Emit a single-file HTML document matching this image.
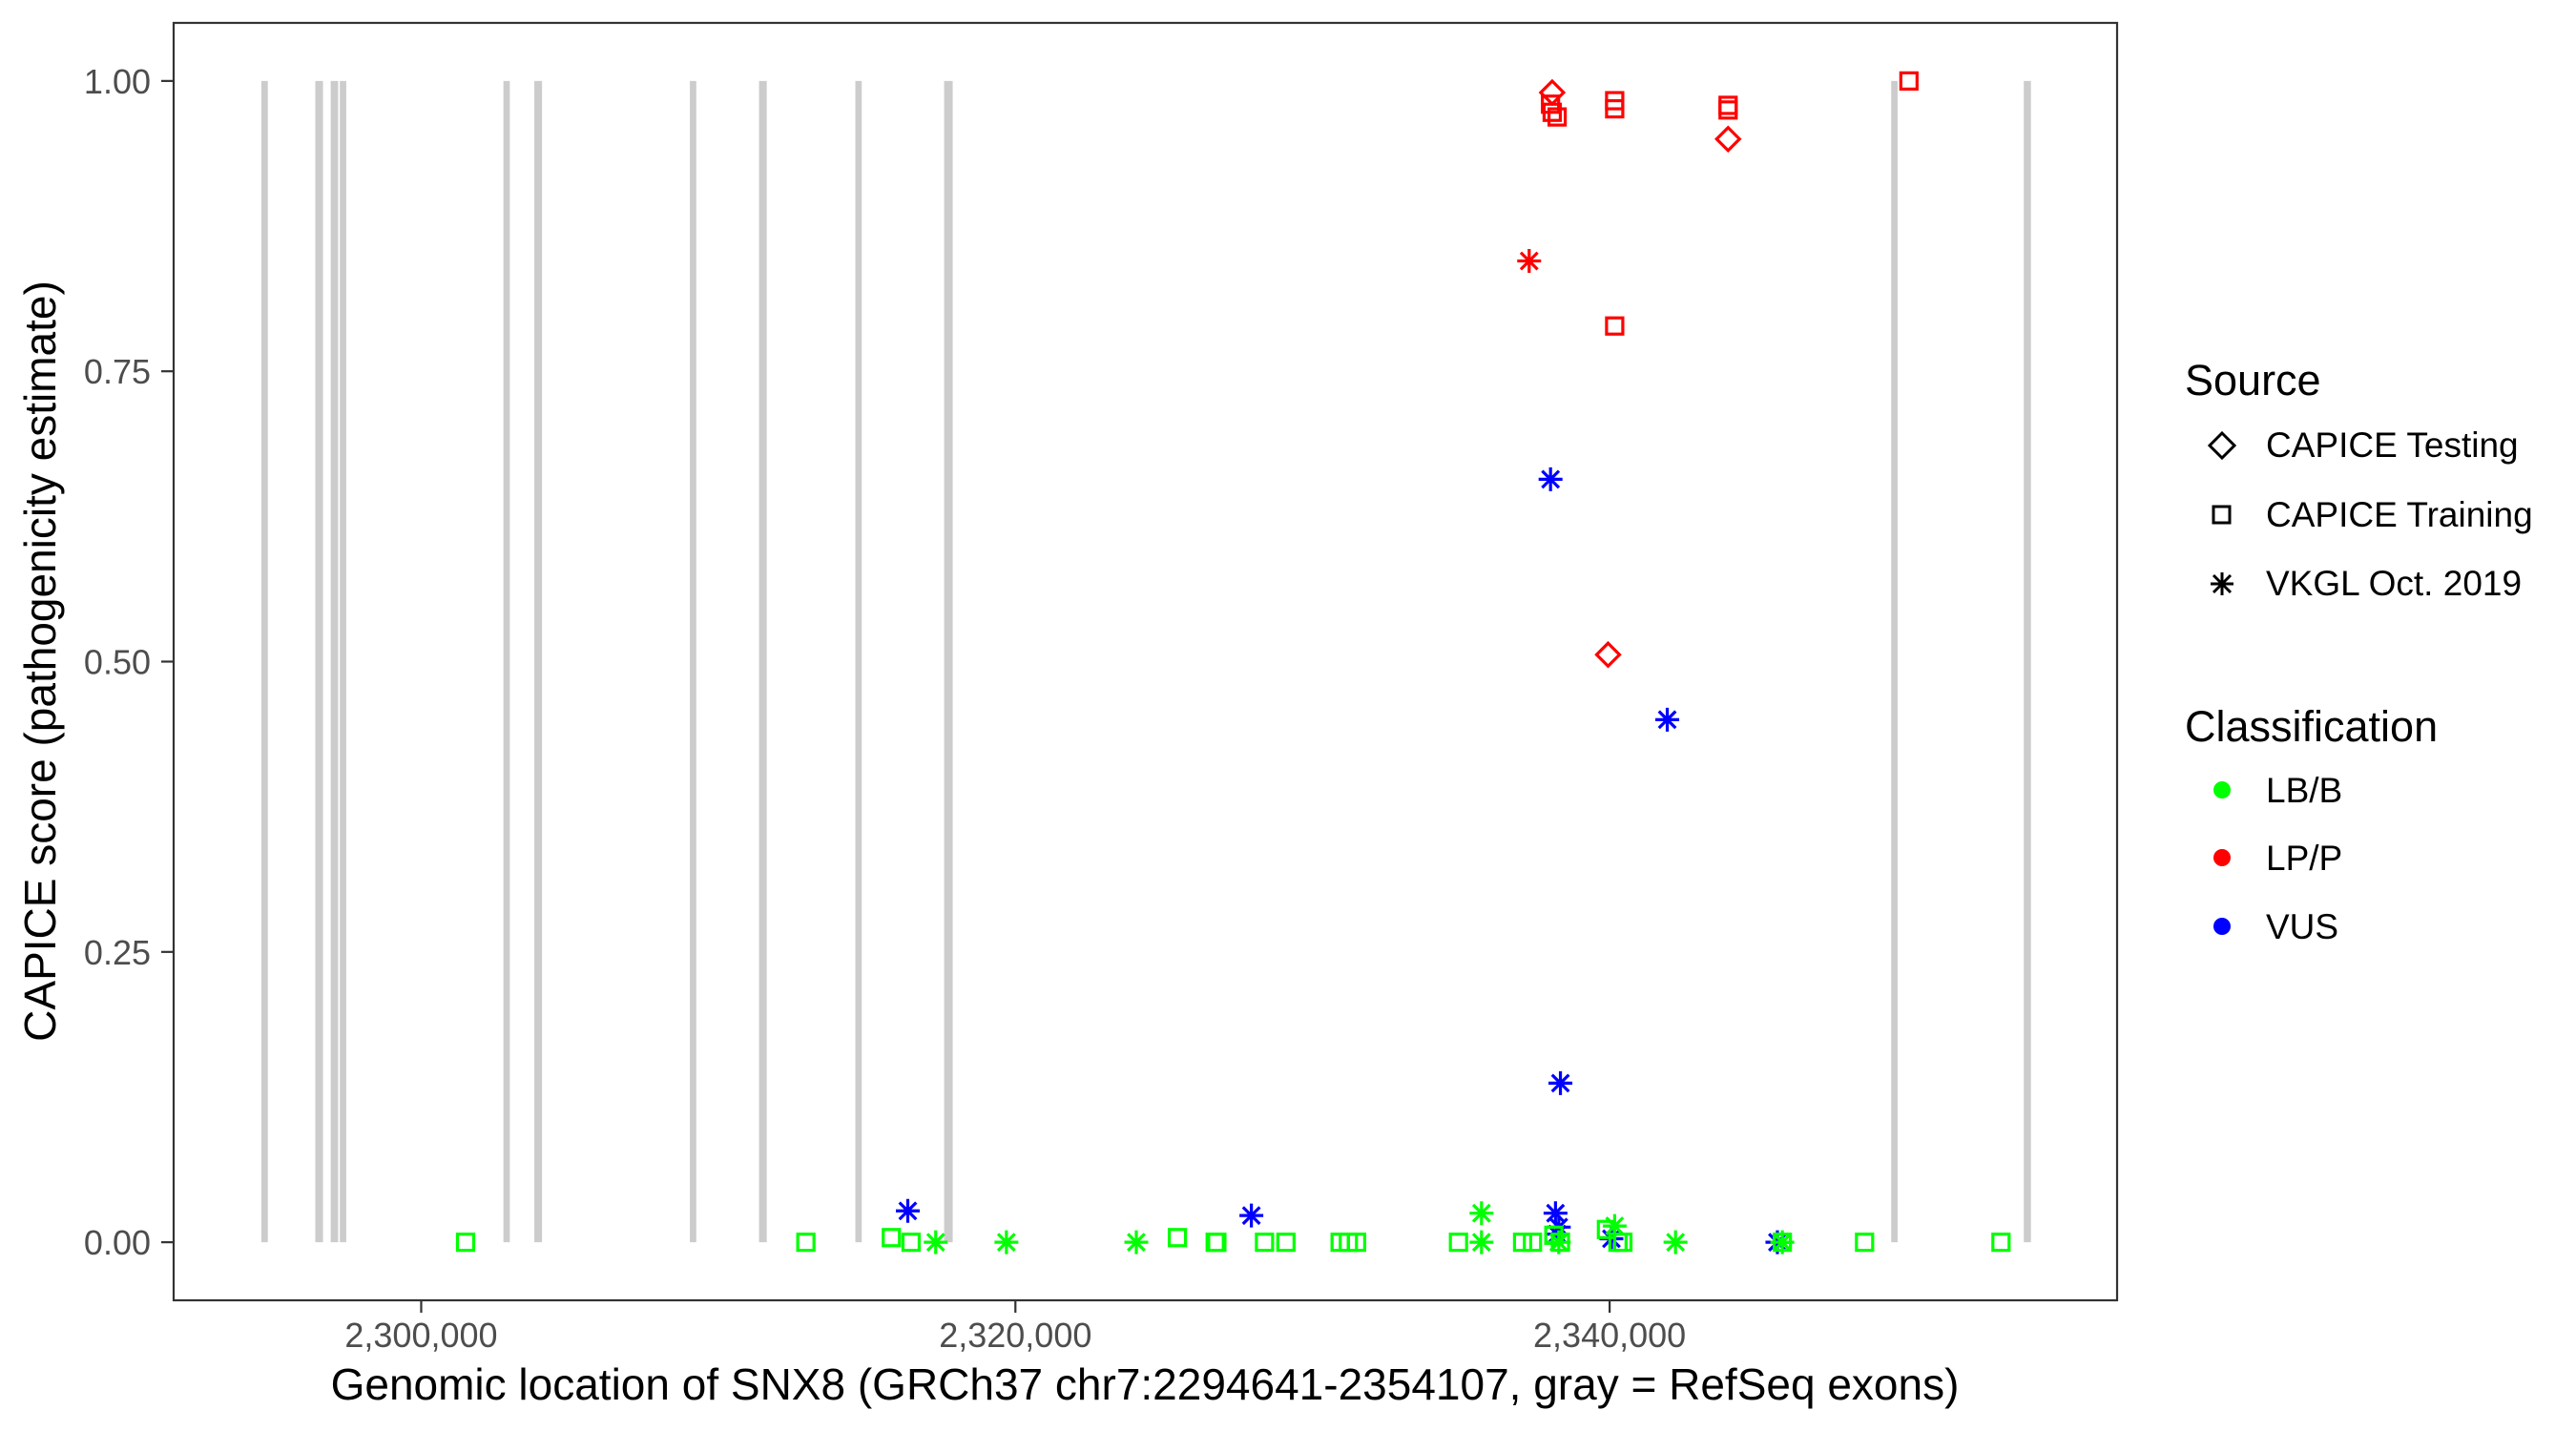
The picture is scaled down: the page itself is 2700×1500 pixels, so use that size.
<!DOCTYPE html>
<html><head><meta charset="utf-8"><style>
html,body{margin:0;padding:0;background:#fff;}
svg{display:block;font-family:"Liberation Sans",sans-serif;}
</style></head><body>
<svg id="chart" width="2700" height="1500" viewBox="0 0 2700 1500">
<rect x="0" y="0" width="2700" height="1500" fill="#fff"/>
<g id="exons"></g>
<g id="points"></g>
<rect x="182" y="24" width="2037" height="1339" fill="none" stroke="#333" stroke-width="2.2"/>
<g id="yaxis"></g>
<g id="xaxis"></g>
<text x="1200" y="1467" font-size="46" text-anchor="middle" fill="#000">Genomic location of SNX8 (GRCh37 chr7:2294641-2354107, gray = RefSeq exons)</text>
<text transform="translate(58,693) rotate(-90)" font-size="46" text-anchor="middle" fill="#000">CAPICE score (pathogenicity estimate)</text>
<g id="legend">
<text x="2290" y="414" font-size="45">Source</text>
<g>
<path d="M2329,454 L2342,467 L2329,480 L2316,467 Z" fill="none" stroke="#000" stroke-width="3"/>
<text x="2375" y="479" font-size="37">CAPICE Testing</text></g>
<g>
<rect x="2320" y="531" width="17" height="17" fill="none" stroke="#000" stroke-width="3"/>
<text x="2375" y="552" font-size="37">CAPICE Training</text></g>
<g>
<path d="M2329,600 V624 M2317,612 H2341 M2320,603 L2338,621 M2338,603 L2320,621" stroke="#000" stroke-width="3"/>
<text x="2375" y="624" font-size="37">VKGL Oct. 2019</text></g>
<text x="2290" y="777" font-size="45">Classification</text>
<g><circle cx="2329" cy="828" r="9" fill="#00ff00"/><text x="2375" y="841" font-size="37">LB/B</text></g>
<g><circle cx="2329" cy="899" r="9" fill="#ff0000"/><text x="2375" y="912" font-size="37">LP/P</text></g>
<g><circle cx="2329" cy="971" r="9" fill="#0000ff"/><text x="2375" y="984" font-size="37">VUS</text></g>
</g>
</svg>
<script>
const exonCenters = [2294730,2296565,2297080,2297370,2302875,2303937,2309151,2311501,2314720,2317745,2349585,2354060];
const exonWidths = [215,260,250,215,215,260,215,260,215,290,215,240];
const xTicks = [2300000,2320000,2340000];
const xTickLabels = ["2,300,000","2,320,000","2,340,000"];
const yTicks = [0,0.25,0.5,0.75,1];
const yTickLabels = ["0.00","0.25","0.50","0.75","1.00"];
const pointX = [
2338067,2343987,2339948,
2338011,2338067,2338233,2340170,2340170,2343987,2343987,2340170,2350074,
2337292,
2338011,2341940,2338344,2316378,2327942,2338178,2338289,2338233,2340060,2345647,
2301494,2312947,2315824,2316488,2325452,2326724,2326780,2328384,2329104,2330930,2331206,2331483,2334913,2337071,2337403,2338122,2338344,2339893,2340280,2340446,2345813,2348580,2353172,
2317318,2319697,2324069,2335688,2335688,2338289,2340170,2342218,2345813];
const pointY = [
0.99,0.95,0.506,
0.98,0.973,0.969,0.983,0.976,0.979,0.975,0.789,1.0,
0.845,
0.657,0.45,0.137,0.027,0.023,0.025,0.013,0.007,0.003,0.0,
0,0,0.004,0,0.004,0,0,0,0,0,0,0,0,0,0,0.006,0,0.011,0,0,0,0,0,
0,0,0,0.025,0,0,0.014,0,0];
const pointSource = [
"T","T","T",
"R","R","R","R","R","R","R","R","R",
"V",
"V","V","V","V","V","V","V","V","V","V",
"R","R","R","R","R","R","R","R","R","R","R","R","R","R","R","R","R","R","R","R","R","R","R",
"V","V","V","V","V","V","V","V","V"];
const pointClass = [
"LP","LP","LP",
"LP","LP","LP","LP","LP","LP","LP","LP","LP",
"LP",
"VUS","VUS","VUS","VUS","VUS","VUS","VUS","VUS","VUS","VUS",
"LB","LB","LB","LB","LB","LB","LB","LB","LB","LB","LB","LB","LB","LB","LB","LB","LB","LB","LB","LB","LB","LB","LB",
"LB","LB","LB","LB","LB","LB","LB","LB","LB"];

const NS="http://www.w3.org/2000/svg";
const X0=182,X1=2219,Y0=24,Y1=1363;
const xMin=2291668,xMax=2357080,yMin=-0.05,yMax=1.05;
const sx=v=>X0+(v-xMin)/(xMax-xMin)*(X1-X0);
const sy=v=>Y1-(v-yMin)/(yMax-yMin)*(Y1-Y0);
const colors={LB:"#00ff00",LP:"#ff0000",VUS:"#0000ff"};
function mk(tag,attrs,parent){const e=document.createElementNS(NS,tag);for(const k in attrs)e.setAttribute(k,attrs[k]);parent.appendChild(e);return e;}

const eg=document.getElementById('exons');
exonCenters.forEach((c,i)=>{
  const a=sx(c-exonWidths[i]/2), b=sx(c+exonWidths[i]/2);
  const r=mk('rect',{x:a,y:sy(1),width:b-a,height:sy(0)-sy(1),fill:'#cccccc'},eg);
  
  
});

const yg=document.getElementById('yaxis');
yTicks.forEach((v,i)=>{
  const y=sy(v);
  const l=mk('line',{x1:169,x2:182,y1:y,y2:y,stroke:'#333','stroke-width':2.2},yg);
  
  
  const t=mk('text',{x:158,y:y+13,'font-size':36,'text-anchor':'end',fill:'#4d4d4d'},yg);
  t.textContent=yTickLabels[i];
  
  
});
const xg=document.getElementById('xaxis');
xTicks.forEach((v,i)=>{
  const x=sx(v);
  const l=mk('line',{x1:x,x2:x,y1:1363,y2:1376,stroke:'#333','stroke-width':2.2},xg);
  
  
  const t=mk('text',{x:x,y:1412,'font-size':36,'text-anchor':'middle',fill:'#4d4d4d'},xg);
  t.textContent=xTickLabels[i];
  
  
});

const pg=document.getElementById('points');
pointX.forEach((xv,i)=>{
  const x=sx(xv), y=sy(pointY[i]), c=colors[pointClass[i]], s=pointSource[i];
  let e;
  if(s==="T"){
    e=mk('path',{d:`M${x},${y-12} L${x+12},${y} L${x},${y+12} L${x-12},${y} Z`,fill:'none',stroke:c,'stroke-width':3.2},pg);
  } else if(s==="R"){
    e=mk('rect',{x:x-8.5,y:y-8.5,width:17,height:17,fill:'none',stroke:c,'stroke-width':3.2},pg);
  } else {
    const r=12.5,d=8.8;
    e=mk('path',{d:`M${x},${y-r} V${y+r} M${x-r},${y} H${x+r} M${x-d},${y-d} L${x+d},${y+d} M${x+d},${y-d} L${x-d},${y+d}`,stroke:c,'stroke-width':3.2,fill:'none'},pg);
  }
  
  
});
</script>
</body></html>
